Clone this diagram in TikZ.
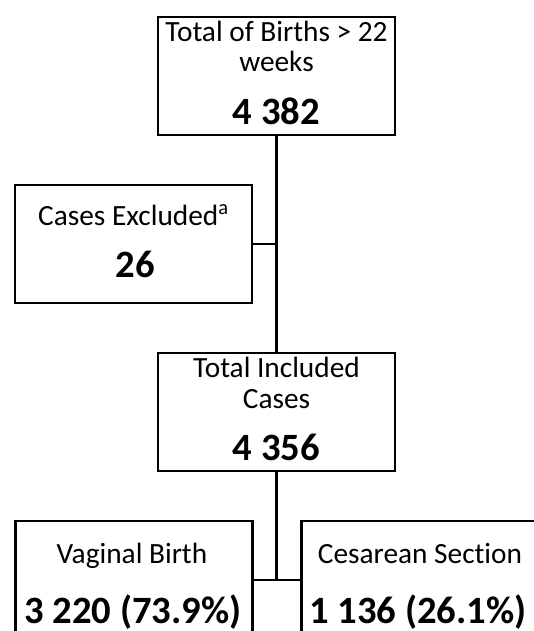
\documentclass[tikz,border=0pt]{standalone}
\usepackage{fontspec}
\setmainfont[Ligatures=NoCommon]{Carlito}
\begin{document}
\begin{tikzpicture}[x=0.75pt,y=-0.75pt,
  box/.style={draw, line width=2pt, rectangle, inner sep=0pt,
    minimum width=177.75pt, minimum height=88.5pt},
  conn/.style={line width=2pt},
  lab/.style={font=\fontsize{22}{26}\selectfont, inner sep=0pt, anchor=base},
  num/.style={font=\bfseries\fontsize{29}{33}\selectfont, inner sep=0pt, anchor=base}]
\useasboundingbox (0,0) rectangle (534,631);
\clip (0,0) rectangle (534,631);
% boxes
\node[box] (top)  at (276.5,76) {};
\node[box] (excl) at (133.5,244) {};
\node[box] (incl) at (276.5,412) {};
\node[box] (vag)  at (134,580) {};
\node[box] (ces)  at (420,580) {};
% texts
\node[lab] (t1) at (276.5,42) {Total of Births > 22};
\node[lab] (t2) at (276.5,72) {weeks};
\node[num] (t3) at (276.5,125) {4 382};
\node[lab] (e1) at (133.5,225) {Cases Excluded\textsuperscript{a}};
\node[num] (e2) at (135,277) {26};
\node[lab] (i1) at (276.5,377) {Total Included};
\node[lab] (i2) at (276.5,408) {Cases};
\node[num] (i3) at (276.5,460) {4 356};
\node[lab] (v1) at (132,563) {Vaginal Birth};
\node[num] (v2) at (133,623) {3 220 (73.9\%)};
\node[lab] (c1) at (420,563) {Cesarean Section};
\node[num] (c2) at (418,623) {1 136 (26.1\%)};
% connectors
\coordinate (jx) at (excl.east -| top.south);
\coordinate (jb) at (vag.east -| incl.south);
\draw[conn] (top.south) -- (incl.north);
\draw[conn] (excl.east) -- (jx);
\draw[conn] (incl.south) -- (jb);
\draw[conn] (vag.east) -- (ces.west);
\end{tikzpicture}
\end{document}
